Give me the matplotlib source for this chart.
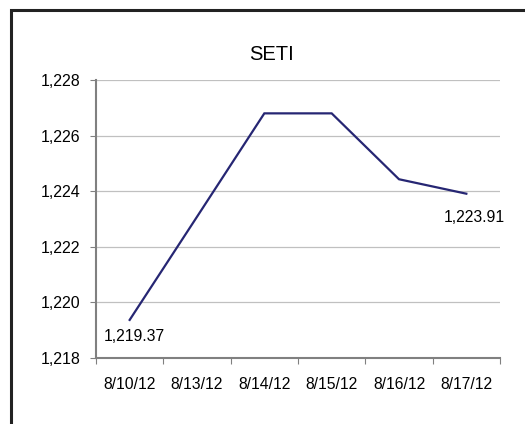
import matplotlib.pyplot as plt
from matplotlib.patches import Rectangle
from matplotlib.ticker import FuncFormatter

dates = ['8/10/12', '8/13/12', '8/14/12', '8/15/12', '8/16/12', '8/17/12']
values = [1219.37, 1223.08, 1226.80, 1226.80, 1224.43, 1223.91]
yticks = [1218, 1220, 1222, 1224, 1226, 1228]

plt.rcParams['font.family'] = ['Liberation Sans', 'DejaVu Sans']

fig = plt.figure(figsize=(5.25, 4.24), dpi=100)
ax = fig.add_axes([96 / 525, 1 - 358 / 424, 404 / 525, 278 / 424])

x = list(range(len(dates)))
ax.plot(x, values, color='#262673', linewidth=1.6, solid_joinstyle='miter')

ax.set_xlim(-0.5, len(dates) - 0.5)
ax.set_ylim(1218, 1228)
ax.set_yticks(yticks)
ax.yaxis.set_major_formatter(FuncFormatter(lambda v, p: f'{v:,.0f}'))
ax.grid(axis='y', color='#c0c0c0', linewidth=0.9)
ax.set_axisbelow(True)

# category ticks sit on the boundaries, labels in the middle
ax.set_xticks([i - 0.5 for i in range(len(dates) + 1)])
ax.set_xticklabels([])
ax.set_xticks(x, minor=True)
ax.set_xticklabels(dates, minor=True)
ax.tick_params(axis='x', which='minor', length=0, pad=14, labelsize=11.3)
ax.tick_params(axis='x', which='major', length=4, color='#808080', direction='out')
ax.tick_params(axis='y', length=4, color='#808080', labelsize=11.5, pad=7)

for s in ['top', 'right']:
    ax.spines[s].set_visible(False)
for s in ['left', 'bottom']:
    ax.spines[s].set_color('#808080')
    ax.spines[s].set_linewidth(1.5)

# title sits centred on the chart frame, not on the plot area
fig.text(272 / 525, 1 - 60 / 424, 'SETI', fontsize=14.5, ha='center', va='baseline')

ax.annotate(f'{values[0]:,.2f}', (x[0], values[0]), xytext=(3.6, -6.5),
            textcoords='offset points', ha='center', va='top', fontsize=11.3)
ax.annotate(f'{values[-1]:,.2f}', (x[-1], values[-1]), xytext=(6, -11.5),
            textcoords='offset points', ha='center', va='top', fontsize=11.3)

# outer frame (top and left edges visible in the crop)
fig.patches.append(Rectangle((10.5 / 525, -0.1), 1.2, 1 - 10.5 / 424 + 0.1,
                             transform=fig.transFigure, fill=False,
                             edgecolor='#222222', linewidth=2.2))

fig.savefig('out.png', dpi=100)
